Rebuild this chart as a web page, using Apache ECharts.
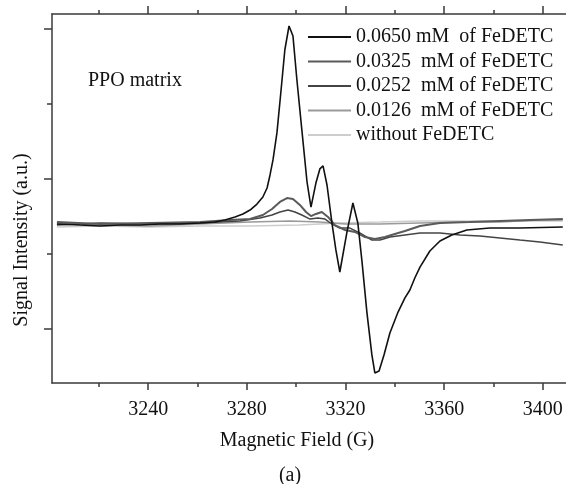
<!DOCTYPE html>
<html>
<head>
<meta charset="utf-8">
<script src="https://cdn.jsdelivr.net/npm/echarts@6/dist/echarts.min.js"></script>
<style>
html,body{margin:0;padding:0;background:#fff;}
#chartDiv{width:566px;height:484px;}
</style>
</head>
<body>
<div id="chartDiv"></div>
<script>
// series names (legend order)
var seriesNames = ['0.0650 mM  of FeDETC', '0.0325  mM of FeDETC', '0.0252  mM of FeDETC', '0.0126  mM of FeDETC', 'without FeDETC'];

// 0.0650 mM
var field1 = [3203.0, 3212.3, 3220.5, 3228.6, 3236.7, 3244.8, 3252.9, 3261.0, 3267.1, 3271.1, 3275.2, 3278.4, 3281.3, 3284.1, 3286.5, 3288.2, 3289.4, 3290.6, 3292.2, 3293.8, 3295.4, 3297.1, 3298.7, 3300.3, 3302.3, 3304.4, 3306.0, 3308.0, 3309.6, 3310.9, 3312.5, 3314.5, 3316.1, 3317.7, 3320.6, 3323.0, 3325.0, 3326.7, 3328.7, 3330.7, 3331.9, 3333.6, 3335.6, 3338.0, 3341.3, 3344.1, 3346.1, 3348.1, 3350.2, 3354.2, 3358.3, 3363.1, 3369.2, 3378.5, 3390.7, 3408.1];
var signal1 = [70, 69.3, 68.7, 69.3, 69.3, 70, 70, 70.7, 71.3, 72.7, 74.7, 76.7, 79.3, 83.3, 88, 94, 102.7, 112.7, 130.7, 158, 186, 202, 195.3, 166, 132.7, 98, 81.3, 97.3, 106.7, 108.7, 96, 70.7, 52.7, 38, 64.7, 84, 70.7, 44.7, 10.7, -17.3, -29.3, -28, -17.3, -2.7, 11.3, 20.7, 26, 34, 41.3, 52, 58.7, 62.7, 66, 67.3, 67.3, 68];

// 0.0325 mM
var field2 = [3203.0, 3220.5, 3240.7, 3261.0, 3273.2, 3281.3, 3286.5, 3290.2, 3293.4, 3296.3, 3298.7, 3301.5, 3304.0, 3306.0, 3308.0, 3310.4, 3312.9, 3315.7, 3319.8, 3323.8, 3327.9, 3331.9, 3336.0, 3340.0, 3344.1, 3350.2, 3358.3, 3370.4, 3382.6, 3394.8, 3408.1];
var signal2 = [71.3, 70, 70.7, 71.3, 72.7, 73.3, 76, 80, 84.7, 87.3, 86.7, 82.7, 78, 75.3, 76.7, 78, 74.7, 69.3, 66, 64.7, 61.3, 60, 61.3, 63.3, 65.3, 68.7, 70.7, 71.3, 72, 72.7, 73.3];

// 0.0252 mM
var field3 = [3203.0, 3220.5, 3240.7, 3261.0, 3277.2, 3285.3, 3290.2, 3293.4, 3296.7, 3299.5, 3302.3, 3305.6, 3308.8, 3311.7, 3314.5, 3317.7, 3321.8, 3325.8, 3330.7, 3334.0, 3338.0, 3344.1, 3350.2, 3358.3, 3366.4, 3374.5, 3382.6, 3390.7, 3398.8, 3408.1];
var signal3 = [69.3, 70.7, 70, 70.7, 72, 74, 76, 78, 79.3, 78, 76, 73.3, 74, 73.3, 70, 67.3, 67.3, 64, 59.3, 59.3, 61.3, 62.7, 64, 64, 62.7, 62, 60.7, 59.3, 58, 56];

// 0.0126 mM
var field4 = [3203.0, 3220.5, 3240.7, 3261.0, 3281.3, 3297.5, 3309.6, 3319.8, 3334.0, 3350.2, 3366.4, 3382.6, 3398.8, 3408.1];
var signal4 = [70.7, 69.3, 68.7, 70, 71.3, 72, 71.3, 70, 70, 70.7, 71.3, 71.3, 72.7, 72.7];

// without FeDETC
var field5 = [3203.0, 3220.5, 3240.7, 3261.0, 3281.3, 3301.5, 3317.7, 3334.0, 3350.2, 3366.4, 3382.6, 3408.1];
var signal5 = [68, 68.7, 68, 68.7, 68.7, 69.3, 70.7, 71.3, 72, 72, 72, 72];

var xMajorTicks = [3240, 3280, 3320, 3360, 3400];
var xMinorTicks = [3220, 3260, 3300, 3340, 3380];
var yMajorTicks = [0, 100, 200];
var yMinorTicks = [50, 150];

var lineColors = ['#111111', '#5a5a5a', '#444444', '#9a9a9a', '#cdcdcd'];
var lineWidths = [1.6, 2, 1.5, 1.5, 1.5];
var fontName = '"Liberation Serif", "Times New Roman", serif';
var axisColor = '#3a3a3a';

function pairs(xs, ys)
{
	var out = [];
	for (var i = 0; i < xs.length; i++) {
		out.push([xs[i], ys[i]]);
	}
	return out;
}

var allData = [pairs(field1, signal1), pairs(field2, signal2), pairs(field3, signal3), pairs(field4, signal4), pairs(field5, signal5)];

function xAxisDef(pos, ticks, len, showLine, showLabel)
{
	return {
		type: 'value',
		position: pos,
		min: 3201,
		max: 3409.4,
		axisLine: {show: showLine, onZero: false, lineStyle: {color: axisColor, width: 1.5}},
		axisTick: {show: true, length: len, customValues: ticks, lineStyle: {color: axisColor, width: 1.5}},
		axisLabel: {
			show: showLabel, customValues: ticks, margin: 17, color: '#111', fontFamily: fontName, fontSize: 20,
			formatter: function(v){ return String(v); }
		},
		splitLine: {show: false}
	};
}

function yAxisDef(ticks, len, showLine)
{
	return {
		type: 'value',
		position: 'left',
		min: -36,
		max: 210,
		axisLine: {show: showLine, onZero: false, lineStyle: {color: axisColor, width: 1.5}},
		axisTick: {show: true, length: len, customValues: ticks, lineStyle: {color: axisColor, width: 1.5}},
		axisLabel: {show: false},
		splitLine: {show: false}
	};
}

var series = [];
var legendData = [];
for (var i = 0; i < allData.length; i++) {
	series.push({
		name: seriesNames[i],
		type: 'line',
		data: allData[i],
		symbol: 'none',
		smooth: false,
		z: i == 0 ? 10 : 5 - i,
		lineStyle: {color: lineColors[i], width: lineWidths[i]},
		itemStyle: {color: lineColors[i]}
	});
	legendData.push({name: seriesNames[i], icon: 'rect', itemStyle: {color: lineColors[i]}});
}

var myChart = echarts.init(document.getElementById('chartDiv'));
var option = {
	backgroundColor: '#fff',
	animation: false,
	grid: {left: 52, top: 14, right: 0, bottom: 101},
	legend: {
		data: legendData,
		orient: 'vertical',
		left: 303,
		top: 22,
		itemWidth: 43,
		itemHeight: 2,
		itemGap: 4.5,
		textStyle: {color: '#111', fontFamily: fontName, fontSize: 20, lineHeight: 20}
	},
	xAxis: [
		xAxisDef('bottom', xMajorTicks, 7, true, true),
		xAxisDef('bottom', xMinorTicks, 4, false, false),
		xAxisDef('top', xMajorTicks, 8, true, false),
		xAxisDef('top', xMinorTicks, 4, false, false)
	],
	yAxis: [
		yAxisDef(yMajorTicks, 8, true),
		yAxisDef(yMinorTicks, 5, false)
	],
	graphic: [
		{type: 'text', left: 88, top: 71, style: {text: 'PPO matrix', font: '20px ' + fontName, fill: '#111'}},
		{type: 'text', x: 297, y: 441, style: {text: 'Magnetic Field (G)', font: '20px ' + fontName, fill: '#111', textAlign: 'center', textVerticalAlign: 'middle'}},
		{type: 'text', x: 290, y: 476, style: {text: '(a)', font: '20px ' + fontName, fill: '#111', textAlign: 'center', textVerticalAlign: 'middle'}},
		{type: 'text', x: 22, y: 240, rotation: Math.PI / 2, style: {text: 'Signal Intensity (a.u.)', font: '20px ' + fontName, fill: '#111', textAlign: 'center', textVerticalAlign: 'middle'}}
	],
	series: series
};
myChart.setOption(option);
</script>
</body>
</html>
